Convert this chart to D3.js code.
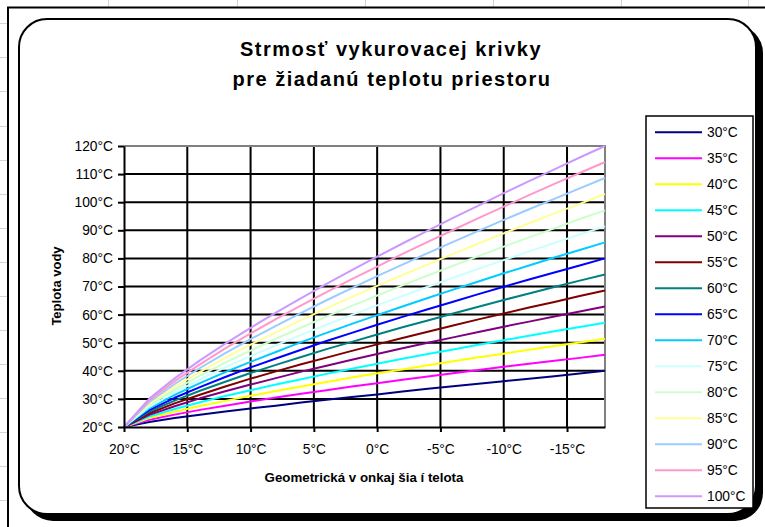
<!DOCTYPE html>
<html>
<head>
<meta charset="utf-8">
<title>Strmosť vykurovacej krivky</title>
<script src="https://d3js.org/d3.v7.min.js"></script>
<style>
body { margin: 0; background: #fff; }
svg text { font-family: Arial, "Liberation Sans", sans-serif; fill: #000; }
</style>
</head>
<body>
<div id="canvas-1"></div>
<script>

// データ
// 外気温 (x軸, 2°C 刻み)
var outdoorTemps = [20, 18, 16, 14, 12, 10, 8, 6, 4, 2, 0, -2, -4, -6, -8, -10, -12, -14, -16, -18];
var xTickValues = [20, 15, 10, 5, 0, -5, -10, -15];
var yTickValues = [20, 30, 40, 50, 60, 70, 80, 90, 100, 110, 120];

// 凡例 (系列名)
var seriesNames = ["30°C", "35°C", "40°C", "45°C", "50°C", "55°C", "60°C", "65°C",
                   "70°C", "75°C", "80°C", "85°C", "90°C", "95°C", "100°C"];

// 水温 (各系列)
var t30  = [20, 21.8, 23.2, 24.4, 25.5, 26.6, 27.6, 28.7, 29.7, 30.7, 31.6, 32.6, 33.6, 34.5, 35.4, 36.3, 37.2, 38.1, 39.0, 40.0];
var t35  = [20, 22.6, 24.4, 26.1, 27.6, 29.1, 30.5, 31.8, 33.1, 34.4, 35.6, 36.8, 38.0, 39.1, 40.3, 41.4, 42.5, 43.6, 44.6, 45.7];
var t40  = [20, 23.2, 25.4, 27.5, 29.3, 31.1, 32.8, 34.4, 36.0, 37.6, 39.1, 40.5, 42.0, 43.4, 44.8, 46.1, 47.5, 48.8, 50.1, 51.4];
var t45  = [20, 23.7, 26.4, 28.8, 31.0, 33.1, 35.1, 37.0, 38.9, 40.7, 42.5, 44.3, 46.0, 47.6, 49.3, 50.9, 52.5, 54.1, 55.6, 57.1];
var t50  = [20, 24.3, 27.4, 30.2, 32.7, 35.1, 37.4, 39.7, 41.8, 43.9, 46.0, 48.0, 50.0, 51.9, 53.8, 55.7, 57.5, 59.3, 61.1, 62.9];
var t55  = [20, 24.9, 28.4, 31.5, 34.4, 37.2, 39.8, 42.3, 44.7, 47.1, 49.4, 51.7, 53.9, 56.1, 58.3, 60.4, 62.5, 64.5, 66.6, 68.6];
var t60  = [20, 25.5, 29.4, 32.9, 36.1, 39.2, 42.1, 44.9, 47.7, 50.3, 52.9, 55.5, 57.9, 60.4, 62.8, 65.2, 67.5, 69.8, 72.1, 74.3];
var t65  = [20, 26.0, 30.4, 34.2, 37.8, 41.2, 44.4, 47.5, 50.6, 53.5, 56.4, 59.2, 61.9, 64.6, 67.3, 69.9, 72.5, 75.0, 77.5, 80.0];
var t70  = [20, 26.6, 31.4, 35.6, 39.5, 43.2, 46.7, 50.2, 53.5, 56.7, 59.8, 62.9, 65.9, 68.9, 71.8, 74.7, 77.5, 80.3, 83.0, 85.7];
var t75  = [20, 27.2, 32.3, 36.9, 41.2, 45.2, 49.1, 52.8, 56.4, 59.9, 63.3, 66.6, 69.9, 73.1, 76.3, 79.4, 82.5, 85.5, 88.5, 91.4];
var t80  = [20, 27.8, 33.3, 38.3, 42.9, 47.2, 51.4, 55.4, 59.3, 63.1, 66.8, 70.4, 73.9, 77.4, 80.8, 84.2, 87.5, 90.7, 94.0, 97.1];
var t85  = [20, 28.3, 34.3, 39.6, 44.6, 49.3, 53.7, 58.0, 62.2, 66.3, 70.2, 74.1, 77.9, 81.6, 85.3, 88.9, 92.5, 96.0, 99.4, 102.9];
var t90  = [20, 28.9, 35.3, 41.0, 46.3, 51.3, 56.0, 60.6, 65.1, 69.4, 73.7, 77.8, 81.9, 85.9, 89.8, 93.7, 97.5, 101.2, 104.9, 108.6];
var t95  = [20, 29.5, 36.3, 42.3, 48.0, 53.3, 58.4, 63.3, 68.0, 72.6, 77.1, 81.6, 85.9, 90.1, 94.3, 98.4, 102.5, 106.5, 110.4, 114.3];
var t100 = [20, 30.1, 37.3, 43.7, 49.7, 55.3, 60.7, 65.9, 70.9, 75.8, 80.6, 85.3, 89.9, 94.4, 98.8, 103.2, 107.5, 111.7, 115.9, 120.0];

var seriesValues = [t30, t35, t40, t45, t50, t55, t60, t65, t70, t75, t80, t85, t90, t95, t100];

// Excel の標準カラー
var lineColors = ["#000080", "#FF00FF", "#FFFF00", "#00FFFF", "#800080", "#800000", "#008080", "#0000FF",
                  "#00CCFF", "#CCFFFF", "#CCFFCC", "#FFFF99", "#99CCFF", "#FF99CC", "#CC99FF"];

var width = 765;
var height = 527;
var plot = { left: 124, top: 146, right: 605, bottom: 427 };

var svg = d3.select("#canvas-1")
  .append("svg")
  .attr("width", width)
  .attr("height", height);

// 背景のシート罫線
var sheetCols = [108, 237, 365, 493, 621, 748];
var sheetRows = d3.range(23.3, height, 34.08);
svg.selectAll(".sheetCol").data(sheetCols).enter().append("line")
  .attr("x1", d => d + 0.5).attr("x2", d => d + 0.5)
  .attr("y1", 0).attr("y2", height)
  .style("stroke", "#d4d4d4");
svg.selectAll(".sheetRow").data(sheetRows).enter().append("line")
  .attr("x1", 0).attr("x2", width)
  .attr("y1", d => Math.round(d) + 0.5).attr("y2", d => Math.round(d) + 0.5)
  .style("stroke", "#d4d4d4");

// グラフオブジェクトの枠
svg.append("rect")
  .attr("x", 8).attr("y", 7.5).attr("width", width).attr("height", height)
  .style("fill", "#fff");
svg.append("path")
  .attr("d", "M8," + height + " L8,7.5 L" + width + ",7.5")
  .style("fill", "none").style("stroke", "#000").style("stroke-width", 2);

// 角丸の枠 (影つき)
svg.append("rect")
  .attr("x", 25).attr("y", 25).attr("width", 738).attr("height", 496)
  .attr("rx", 28).attr("ry", 28)
  .style("fill", "#000");
svg.append("rect")
  .attr("x", 19).attr("y", 19).attr("width", 737).attr("height", 495)
  .attr("rx", 28).attr("ry", 28)
  .style("fill", "#fff").style("stroke", "#000").style("stroke-width", 2);

// タイトル
var title = svg.append("text")
  .attr("text-anchor", "middle")
  .style("font-size", "20px").style("font-weight", "bold").style("letter-spacing", "1.5px");
title.append("tspan").attr("x", 391).attr("y", 56).text("Strmosť vykurovacej  krivky");
title.append("tspan").attr("x", 392).attr("y", 86).text("pre žiadanú teplotu priestoru");

// スケール
var x = d3.scaleLinear().domain([20, -18]).range([plot.left, plot.right]);
var y = d3.scaleLinear().domain([20, 120]).range([plot.bottom, plot.top]);

// 目盛線
svg.selectAll(".hgrid").data(yTickValues.slice(1, -1)).enter().append("line")
  .attr("x1", plot.left).attr("x2", plot.right)
  .attr("y1", d => y(d)).attr("y2", d => y(d))
  .style("stroke", "#000").style("stroke-width", 2);
svg.selectAll(".vgrid").data(xTickValues.slice(1)).enter().append("line")
  .attr("x1", d => x(d)).attr("x2", d => x(d))
  .attr("y1", plot.top).attr("y2", plot.bottom)
  .style("stroke", "#000").style("stroke-width", 2);

// プロットエリアの枠 (上と右はグレー)
svg.append("path")
  .attr("d", "M" + plot.left + "," + plot.top + " L" + plot.right + "," + plot.top + " L" + plot.right + "," + plot.bottom)
  .style("fill", "none").style("stroke", "#808080").style("stroke-width", 2);

// 曲線
var line = d3.line()
  .x((d, i) => x(outdoorTemps[i]))
  .y(d => y(d));
svg.selectAll(".curve").data(seriesValues).enter().append("path")
  .attr("d", d => line(d))
  .style("fill", "none")
  .style("stroke", (d, i) => lineColors[i])
  .style("stroke-width", 2)
  .style("stroke-linejoin", "round");

// 軸
var yAxis = svg.append("g")
  .attr("transform", "translate(" + plot.left + ",0)")
  .call(d3.axisLeft(y).tickValues(yTickValues).tickFormat(d => d + "°C").tickSize(6).tickSizeOuter(0).tickPadding(5));
var xAxis = svg.append("g")
  .attr("transform", "translate(0," + plot.bottom + ")")
  .call(d3.axisBottom(x).tickValues(xTickValues).tickFormat(d => d + "°C").tickSize(5).tickSizeOuter(0).tickPadding(12));
[yAxis, xAxis].forEach(function(ax) {
  ax.select(".domain").style("stroke", "#000").style("stroke-width", 2);
  ax.selectAll(".tick line").style("stroke", "#000").style("stroke-width", 2);
  ax.selectAll(".tick text").style("font-size", "13.8px").style("font-family", "Arial, 'Liberation Sans', sans-serif").attr("fill", "#000");
});

// 軸タイトル
svg.append("text")
  .attr("transform", "translate(60.5,286) rotate(-90)")
  .attr("text-anchor", "middle")
  .style("font-size", "13px").style("font-weight", "bold")
  .text("Teplota vody");
svg.append("text")
  .attr("x", 364).attr("y", 482)
  .attr("text-anchor", "middle")
  .style("font-size", "13.3px").style("font-weight", "bold")
  .text("Geometrická v onkaj šia í telota");

// 凡例
var legend = svg.append("g");
legend.append("rect")
  .attr("x", 646).attr("y", 116).attr("width", 107).attr("height", 392)
  .style("fill", "#fff").style("stroke", "#000").style("stroke-width", 1.5);
var items = legend.selectAll(".item").data(seriesNames).enter().append("g")
  .attr("transform", (d, i) => "translate(0," + (132.3 + i * 26) + ")");
items.append("line")
  .attr("x1", 655).attr("x2", 702).attr("y1", 0).attr("y2", 0)
  .style("stroke", (d, i) => lineColors[i]).style("stroke-width", 2);
items.append("text")
  .attr("x", 707).attr("y", 0).attr("dy", "0.36em")
  .style("font-size", "13.8px")
  .text(d => d);

</script>
</body>
</html>
